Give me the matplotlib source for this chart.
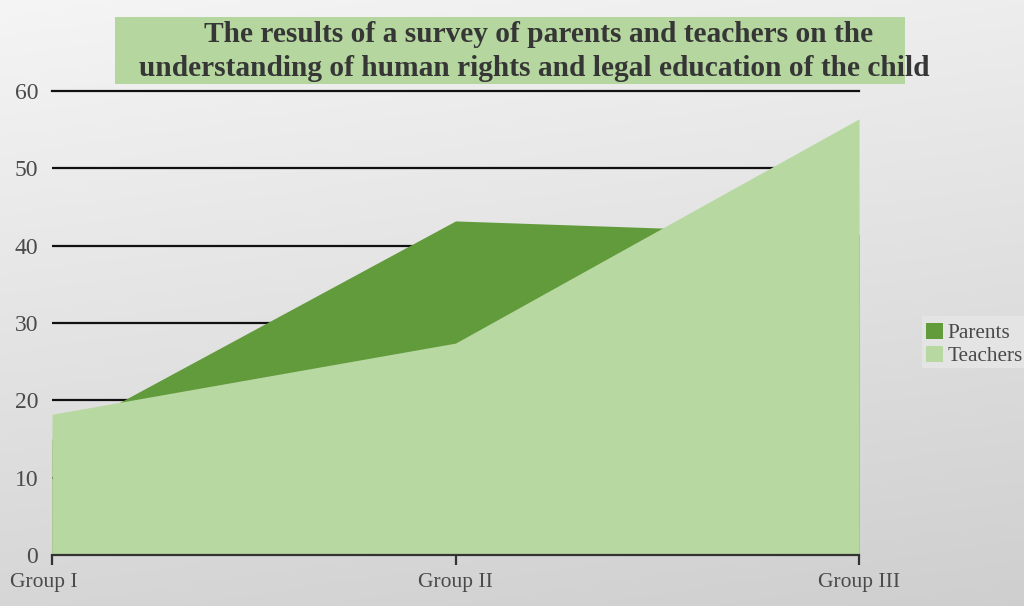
import numpy as np
import matplotlib.pyplot as plt
from matplotlib.patches import Rectangle
from matplotlib.transforms import ScaledTranslation

groups = ["Group I", "Group II", "Group III"]
parents = [15.0, 43.2, 41.4]
teachers = [18.2, 27.4, 56.4]
y_ticks = [0, 10, 20, 30, 40, 50, 60]
title_lines = ["The results of a survey of parents and teachers on the",
               "understanding of human rights and legal education of the child"]

PARENT_C = "#629b3c"
TEACHER_C = "#b8d8a2"
TEXT_C = "#4a4a4a"

plt.rcParams['font.family'] = ['Liberation Serif', 'DejaVu Serif']

fig = plt.figure(figsize=(10.24, 6.06), dpi=100)

# grey backdrop, lighter at the top
bg = fig.add_axes([0, 0, 1, 1], zorder=-10)
h, w = 200, 300
yy, xx = np.mgrid[0:h, 0:w]
shade = 0.96 - 0.12 * (yy / h) - 0.03 * (xx / w)
bg.imshow(np.dstack([shade] * 3), aspect='auto', extent=[0, 1, 0, 1], origin='upper')
bg.set_xlim(0, 1)
bg.set_ylim(0, 1)
bg.axis('off')

W, H = 1024, 606
def fx(px):
    return px / W
def fy(py):
    return 1 - py / H

# title banner
bg.add_patch(Rectangle((fx(115), fy(84)), fx(905) - fx(115), fy(17) - fy(84),
                       facecolor="#b5d69f", edgecolor="none", zorder=1))
bg.text(fx(539), fy(35), title_lines[0], ha='center', va='center',
        fontsize=21.2, fontweight='bold', color="#363636", zorder=2)
bg.text(fx(534), fy(68), title_lines[1], ha='center', va='center',
        fontsize=21.2, fontweight='bold', color="#363636", zorder=2)

# legend backdrop
bg.add_patch(Rectangle((fx(922), fy(368)), fx(1024) - fx(922), fy(316) - fy(368),
                       facecolor="#e4e4e4", edgecolor="none", zorder=1))

ax = fig.add_axes([fx(52), fy(555), fx(859) - fx(52), fy(91) - fy(555)])
ax.patch.set_alpha(0)
x = np.arange(len(groups))

for v in y_ticks[1:]:
    ax.axhline(v, color="#111111", lw=1.6, zorder=1, clip_on=(v != y_ticks[-1]))

ax.fill_between(x, 0, parents, color=PARENT_C, lw=0, zorder=2, label="Parents")
ax.fill_between(x, 0, teachers, color=TEACHER_C, lw=0, zorder=3, label="Teachers")

ax.set_xlim(0, 2)
ax.set_ylim(0, 60)
ax.set_xticks(x)
ax.set_xticklabels(groups)
ax.set_yticks(y_ticks)
for s in ["top", "right", "left"]:
    ax.spines[s].set_visible(False)
ax.spines["bottom"].set_color("#333333")
ax.spines["bottom"].set_linewidth(1.6)
ax.spines["bottom"].set_zorder(4)
ax.tick_params(axis='x', length=7, width=1.6, color="#333333", labelsize=15.5,
               labelcolor=TEXT_C, pad=6)
ax.tick_params(axis='y', length=0, labelsize=17, labelcolor=TEXT_C, pad=10)

# first category label sits slightly left of its tick
first = ax.get_xticklabels()[0]
first.set_transform(first.get_transform() + ScaledTranslation(-8 / 100, 0, fig.dpi_scale_trans))

leg = fig.legend(loc='upper left', bbox_to_anchor=(fx(917), fy(314)),
                 frameon=False, fontsize=15.3, handlelength=0.8, handleheight=0.8,
                 handletextpad=0.25, labelspacing=0.12, borderaxespad=0)
for t in leg.get_texts():
    t.set_color(TEXT_C)

fig.savefig("out.png", dpi=100)
